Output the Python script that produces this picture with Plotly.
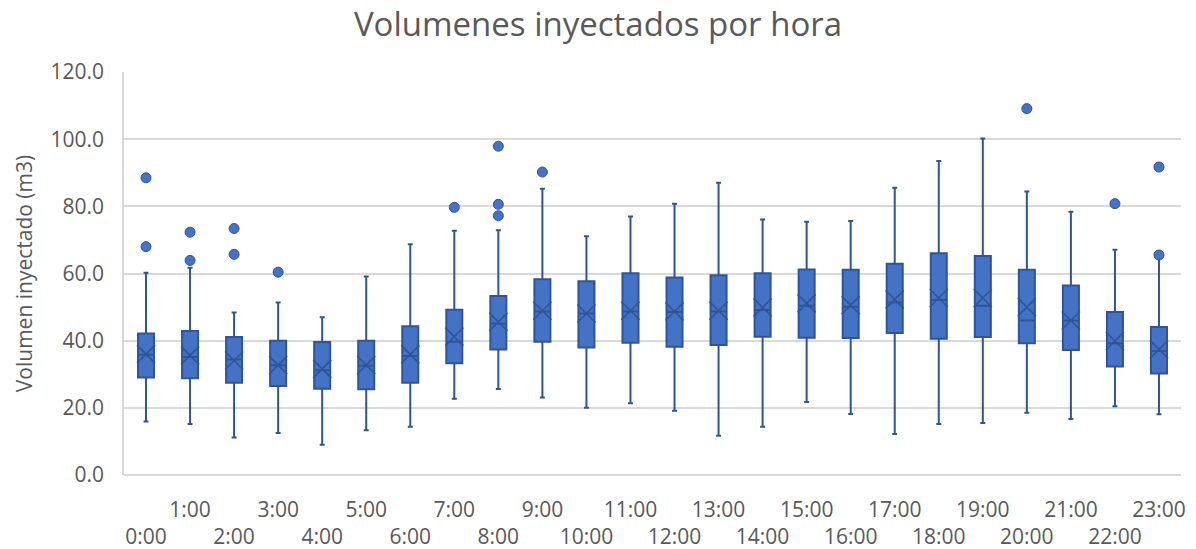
import plotly.graph_objects as go

# Hourly injected volume statistics (m3)
hours = [f"{h}:00" for h in range(24)]

q1 = [29.0, 28.8, 27.5, 26.5, 25.7, 25.5, 27.5, 33.3, 37.4, 39.7, 38.0, 39.4,
      38.2, 38.7, 41.2, 40.9, 40.8, 42.3, 40.6, 41.1, 39.2, 37.2, 32.3, 30.2]
median = [35.8, 35.1, 34.4, 32.7, 31.2, 32.5, 35.4, 39.7, 45.1, 48.7, 48.1, 48.7,
          48.5, 48.7, 49.1, 50.4, 50.1, 51.4, 52.1, 50.4, 46.0, 46.0, 39.2, 36.9]
q3 = [42.1, 42.9, 41.1, 40.0, 39.6, 40.0, 44.3, 49.2, 53.3, 58.3, 57.7, 60.1,
      58.8, 59.5, 60.1, 61.2, 61.1, 62.9, 66.0, 65.2, 61.1, 56.4, 48.5, 44.1]
lower_whisker = [15.9, 15.2, 11.2, 12.5, 9.0, 13.3, 14.4, 22.7, 25.6, 23.1, 20.0, 21.4,
                 19.1, 11.7, 14.4, 21.7, 18.2, 12.2, 15.2, 15.5, 18.5, 16.7, 20.5, 18.1]
upper_whisker = [60.2, 61.7, 48.4, 51.4, 47.0, 59.1, 68.7, 72.7, 72.9, 85.2, 71.1, 77.0,
                 80.8, 87.0, 76.1, 75.4, 75.6, 85.5, 93.5, 100.2, 84.4, 78.4, 67.1, 64.9]
mean = [36.0, 35.6, 34.1, 32.7, 31.6, 32.7, 35.9, 41.2, 45.6, 48.9, 48.1, 48.9,
        48.7, 48.9, 49.9, 51.1, 50.6, 52.3, 52.7, 52.7, 50.0, 46.0, 39.9, 37.4]

outlier_hours = ["0:00", "0:00", "1:00", "1:00", "2:00", "2:00", "3:00", "7:00",
                 "8:00", "8:00", "8:00", "9:00", "20:00", "22:00", "23:00", "23:00"]
outlier_values = [88.5, 68.0, 72.3, 63.9, 73.4, 65.7, 60.4, 79.7,
                  97.9, 80.6, 77.2, 90.2, 109.1, 80.8, 91.7, 65.5]

# Two-row staggered tick labels: odd hours on the first row, even on the second
tick_text = [h if i % 2 else "<br>" + h for i, h in enumerate(hours)]

FILL = "#4472C4"
EDGE = "#2F5597"
TEXT = "#595959"
GRID = "#D9D9D9"
FONT = "Open Sans"

fig = go.Figure()

fig.add_trace(go.Box(
    x=hours,
    q1=q1,
    median=median,
    q3=q3,
    lowerfence=lower_whisker,
    upperfence=upper_whisker,
    fillcolor=FILL,
    line=dict(color=EDGE, width=2),
    whiskerwidth=0.31,
    boxpoints=False,
    showlegend=False,
    hoverinfo="skip",
))

fig.add_trace(go.Scatter(
    x=hours,
    y=mean,
    mode="markers",
    marker=dict(symbol="x-thin", size=18, line=dict(color=EDGE, width=1.6)),
    showlegend=False,
    hoverinfo="skip",
))

fig.add_trace(go.Scatter(
    x=outlier_hours,
    y=outlier_values,
    mode="markers",
    marker=dict(symbol="circle", size=10, color=FILL, line=dict(color=EDGE, width=1)),
    showlegend=False,
    hoverinfo="skip",
))

fig.update_layout(
    width=1196,
    height=549,
    margin=dict(l=124, r=15, t=72, b=74),
    paper_bgcolor="white",
    plot_bgcolor="white",
    boxgap=0.48,
    font=dict(family=FONT, color=TEXT, size=21),
    title=dict(
        text="Volumenes inyectados por hora",
        font=dict(family=FONT, size=33, color=TEXT),
        x=0.5,
        xanchor="center",
        y=0.955,
        yanchor="middle",
    ),
)

fig.update_xaxes(
    type="category",
    categoryorder="array",
    categoryarray=hours,
    tickmode="array",
    tickvals=hours,
    ticktext=tick_text,
    tickangle=0,
    showgrid=False,
    showline=False,
    ticks="",
    ticklabelstandoff=20,
    tickfont=dict(family=FONT, size=21, color=TEXT),
    range=[-0.5, 23.5],
    automargin=False,
)

fig.update_yaxes(
    range=[0, 120],
    tickmode="array",
    tickvals=[0, 20, 40, 60, 80, 100, 120],
    ticktext=["0.0", "20.0", "40.0", "60.0", "80.0", "100.0", "120.0"],
    showgrid=True,
    gridcolor=GRID,
    gridwidth=1.5,
    showline=True,
    linecolor=GRID,
    linewidth=1.5,
    zeroline=True,
    zerolinecolor=GRID,
    zerolinewidth=1.5,
    ticks="",
    ticklabelstandoff=14,
    tickfont=dict(family=FONT, size=21, color=TEXT),
    title=dict(text="Volumen inyectado (m3)", font=dict(family=FONT, size=21, color=TEXT), standoff=12),
    automargin=False,
)

fig.write_html("out.html")
